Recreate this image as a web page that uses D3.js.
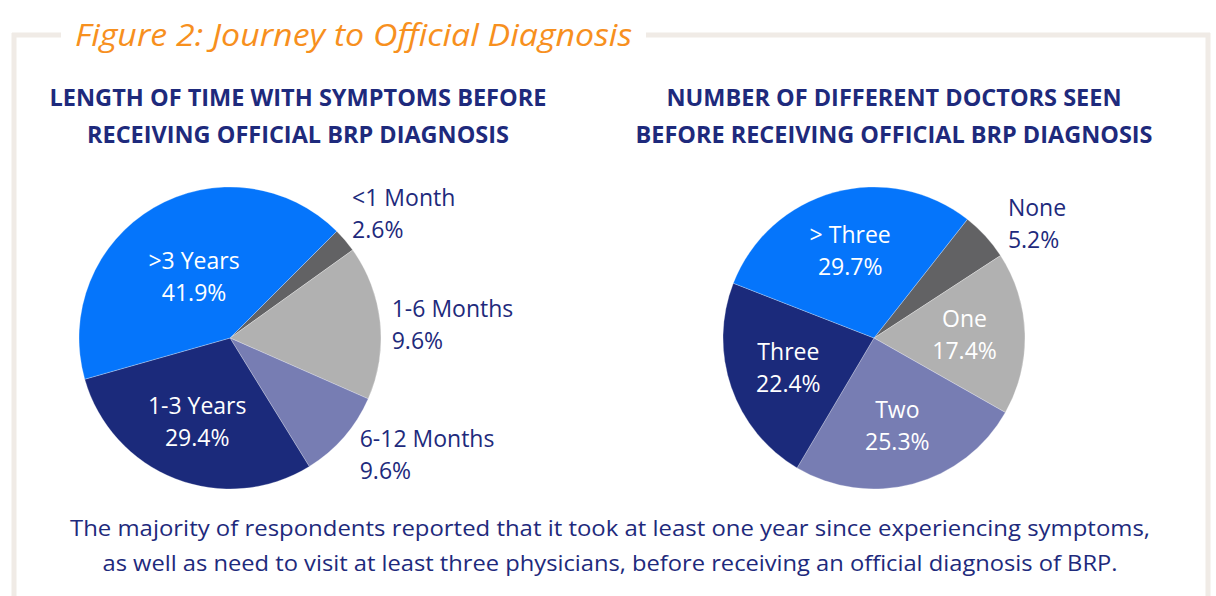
<!DOCTYPE html>
<html>
<head>
<meta charset="utf-8">
<script src="https://cdn.jsdelivr.net/npm/d3@7"></script>
<style>
  html, body { margin: 0; padding: 0; background: #fff; }
  svg text { font-family: "Open Sans", "Noto Sans", sans-serif; }
</style>
</head>
<body>
<div id="chart"></div>
<script>
// ---- data ----
const timeCategories = ["<1 Month", "1-6 Months", "6-12 Months", "1-3 Years", ">3 Years"];
const timeValues = [2.6, 16.5, 9.6, 29.4, 41.9];          // slice sizes as drawn
const timeLabels = ["2.6%", "9.6%", "9.6%", "29.4%", "41.9%"]; // percentages as printed

const doctorCategories = ["None", "One", "Two", "Three", "> Three"];
const doctorValues = [5.2, 17.4, 25.3, 22.4, 29.7];
const doctorLabels = ["5.2%", "17.4%", "25.3%", "22.4%", "29.7%"];

const sliceColors = ["#626264", "#b1b1b1", "#777db3", "#1b2a7b", "#0575fb"];

const NAVY = "#1e2a7c";
const ORANGE = "#f7901e";

window.onload = function () {
    drawFrame();
    drawPie({
        cx: 230, cy: 338,
        title: ["LENGTH OF TIME WITH SYMPTOMS BEFORE", "RECEIVING OFFICIAL BRP DIAGNOSIS"],
        titleWidths: [497, 422],
        titleX: 298,
        cats: timeCategories, values: timeValues, labels: timeLabels,
        startDeg: 45,
        outside: ["<1 Month", "1-6 Months", "6-12 Months"],
        radiusFactor: { ">3 Years": 0.47 },
        nudge: { "<1 Month": [-8, -14], "1-6 Months": [-8, 5], "6-12 Months": [1, 5] }
    });
    drawPie({
        cx: 874, cy: 338,
        title: ["NUMBER OF DIFFERENT DOCTORS SEEN", "BEFORE RECEIVING OFFICIAL BRP DIAGNOSIS"],
        titleWidths: [455, 517],
        titleX: 894,
        cats: doctorCategories, values: doctorValues, labels: doctorLabels,
        startDeg: 38.2,
        outside: ["None"],
        radiusFactor: {},
        nudge: { "None": [8, 1] }
    });
    drawFooter();
};

let svg = d3.select("#chart")
    .append("svg")
    .attr("width", 1216)
    .attr("height", 596);

svg.append("rect").attr("width", 1216).attr("height", 596).attr("fill", "#fff");

function drawFrame() {
    let frame = "#f0ebe6";
    // top line with a gap for the title
    svg.append("line").attr("x1", 12).attr("x2", 61).attr("y1", 35).attr("y2", 35)
        .attr("stroke", frame).attr("stroke-width", 5);
    svg.append("line").attr("x1", 646).attr("x2", 1210).attr("y1", 35).attr("y2", 35)
        .attr("stroke", frame).attr("stroke-width", 5);
    svg.append("line").attr("x1", 14).attr("x2", 14).attr("y1", 33).attr("y2", 596)
        .attr("stroke", frame).attr("stroke-width", 5);
    svg.append("line").attr("x1", 1208).attr("x2", 1208).attr("y1", 33).attr("y2", 596)
        .attr("stroke", frame).attr("stroke-width", 5);

    svg.append("text")
        .attr("x", 75).attr("y", 46)
        .attr("fill", ORANGE)
        .attr("textLength", 557)
        .attr("lengthAdjust", "spacingAndGlyphs")
        .style("font-size", "31px")
        .style("font-style", "italic")
        .text("Figure 2: Journey to Official Diagnosis");
}

function drawPie(cfg) {
    let radius = 151;
    let start = cfg.startDeg * Math.PI / 180;

    // subtitle
    svg.append("g").selectAll("text")
        .data(cfg.title)
        .enter()
        .append("text")
        .attr("x", cfg.titleX)
        .attr("y", function (d, i) { return 106 + i * 37; })
        .attr("text-anchor", "middle")
        .attr("fill", NAVY)
        .attr("textLength", function (d, i) { return cfg.titleWidths[i]; })
        .attr("lengthAdjust", "spacingAndGlyphs")
        .style("font-size", "22.5px")
        .style("font-weight", "bold")
        .text(function (d) { return d; });

    let g = svg.append("g")
        .attr("transform", "translate(" + cfg.cx + "," + cfg.cy + ")");

    let color = d3.scaleOrdinal().domain(cfg.cats).range(sliceColors);

    let pie = d3.pie()
        .sort(null)
        .startAngle(start)
        .endAngle(start + 2 * Math.PI)
        .value(function (d, i) { return cfg.values[i]; });

    let arcs = pie(cfg.cats);

    let arc = d3.arc().innerRadius(0).outerRadius(radius);

    g.selectAll("slice")
        .data(arcs)
        .enter()
        .append("path")
        .attr("d", arc)
        .attr("fill", function (d) { return color(d.data); })
        .attr("stroke", "#ffffff")
        .attr("stroke-opacity", 0.35)
        .attr("stroke-width", 0.8);

    // labels
    let labels = g.selectAll("lbl")
        .data(arcs)
        .enter()
        .append("text")
        .attr("fill", function (d) { return cfg.outside.indexOf(d.data) >= 0 ? NAVY : "#ffffff"; })
        .attr("text-anchor", function (d) { return cfg.outside.indexOf(d.data) >= 0 ? "start" : "middle"; })
        .style("font-size", "23px")
        .attr("transform", function (d) {
            let isOut = cfg.outside.indexOf(d.data) >= 0;
            let k = isOut ? 1.13 : (cfg.radiusFactor[d.data] || 0.6);
            let mid = (d.startAngle + d.endAngle) / 2;
            let x = Math.sin(mid) * radius * k;
            let y = -Math.cos(mid) * radius * k - 8;
            let n = cfg.nudge[d.data] || [0, 0];
            return "translate(" + (x + n[0]) + "," + (y + n[1]) + ")";
        });

    labels.append("tspan")
        .attr("x", 0).attr("y", 0)
        .text(function (d) { return d.data; });
    labels.append("tspan")
        .attr("x", 0).attr("y", 32)
        .text(function (d) { return cfg.labels[d.index]; });
}

function drawFooter() {
    let lines = [
        "The majority of respondents reported that it took at least one year since experiencing symptoms,",
        "as well as need to visit at least three physicians, before receiving an official diagnosis of BRP."
    ];
    let widths = [1080, 1015];
    svg.append("g").selectAll("text")
        .data(lines)
        .enter()
        .append("text")
        .attr("x", 610)
        .attr("y", function (d, i) { return 536 + i * 35; })
        .attr("text-anchor", "middle")
        .attr("fill", NAVY)
        .attr("textLength", function (d, i) { return widths[i]; })
        .attr("lengthAdjust", "spacingAndGlyphs")
        .style("font-size", "22px")
        .text(function (d) { return d; });
}
</script>
</body>
</html>
